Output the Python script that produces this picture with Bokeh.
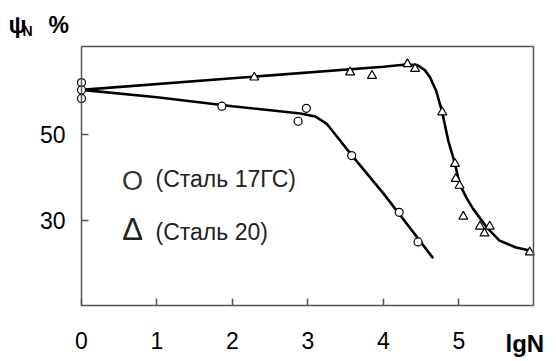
from bokeh.plotting import figure
from bokeh.models import Range1d, FixedTicker, Label, LinearAxis
from bokeh.embed import file_html
from bokeh.resources import INLINE

# Сталь 17ГС (circles)
c_x = [0.0, 0.0, 0.0, 1.86, 2.87, 2.98, 3.58, 4.21, 4.46]
c_y = [62.1, 60.4, 58.4, 56.6, 53.1, 56.1, 45.1, 31.9, 25.0]
c_curve_x = [0.0, 1.0, 2.0, 2.9, 3.1, 3.25, 3.4, 3.58, 4.0, 4.4, 4.66]
c_curve_y = [60.4, 58.7, 56.6, 54.9, 54.2, 52.5, 49.2, 45.2, 36.3, 27.2, 21.2]

# Сталь 20 (triangles)
t_x = [2.29, 3.56, 3.85, 4.32, 4.42, 4.78, 4.95, 4.96, 5.01, 5.06, 5.28, 5.34, 5.41, 5.94]
t_y = [63.3, 64.5, 63.7, 66.4, 65.3, 55.2, 43.2, 39.7, 38.1, 30.9, 28.6, 27.0, 28.6, 22.6]
t_curve_x = [0.0, 2.0, 4.0, 4.3, 4.45, 4.55, 4.62, 4.70, 4.78, 4.86, 4.95, 5.01, 5.10, 5.19, 5.37, 5.54, 5.76, 5.94]
t_curve_y = [60.4, 63.1, 65.8, 66.3, 66.2, 65.0, 63.3, 60.2, 55.2, 48.6, 43.2, 38.5, 35.3, 32.7, 28.4, 25.3, 23.7, 23.0]

x_ticks = [0, 1, 2, 3, 4, 5]
y_ticks = [30, 50]
x_lo, x_hi = 0.0, 5.99      # plot box, data units
y_lo, y_hi = 10.2, 70.5

W, H = 556, 361
# box placement on the canvas (pixels)
BOX_L, BOX_R, BOX_T, BOX_B = 81, 533, 46, 305
sx = (BOX_R - BOX_L) / (x_hi - x_lo)
sy = (BOX_B - BOX_T) / (y_hi - y_lo)
x_range = Range1d(x_lo - BOX_L / sx, x_hi + (W - BOX_R) / sx)
y_range = Range1d(y_lo - (H - BOX_B) / sy, y_hi + BOX_T / sy)

def px(x_px):
    return x_range.start + x_px / sx

def py(y_px):
    return y_range.end - y_px / sy

FONT = "Liberation Sans"
EDGE = "#555555"

p = figure(width=W, height=H, output_backend="svg", toolbar_location=None,
           x_range=x_range, y_range=y_range, min_border=0)
p.background_fill_color = "white"
p.border_fill_color = "white"
p.grid.visible = False
p.outline_line_color = None

def style_axis(ax):
    ax.axis_line_color = EDGE
    ax.axis_line_width = 1.5
    ax.major_tick_line_color = EDGE
    ax.major_tick_line_width = 1.5
    ax.major_tick_in = 7
    ax.major_tick_out = 0
    ax.minor_tick_line_color = None
    ax.major_label_text_font = FONT
    ax.major_label_text_font_size = "23px"
    ax.major_label_text_color = "black"

xa, ya = p.xaxis[0], p.yaxis[0]
style_axis(xa)
style_axis(ya)
xa.ticker = FixedTicker(ticks=x_ticks)
ya.ticker = FixedTicker(ticks=y_ticks)
xa.fixed_location = y_lo
ya.fixed_location = x_lo
xa.bounds = (x_lo, x_hi)
ya.bounds = (y_lo, y_hi)
xa.major_label_standoff = 26
ya.major_label_standoff = 16

top_ax = LinearAxis(ticker=FixedTicker(ticks=[]), fixed_location=y_hi, bounds=(x_lo, x_hi))
right_ax = LinearAxis(ticker=FixedTicker(ticks=[]), fixed_location=x_hi, bounds=(y_lo, y_hi))
for ax in (top_ax, right_ax):
    style_axis(ax)
p.add_layout(top_ax, "above")
p.add_layout(right_ax, "right")

p.line(c_curve_x, c_curve_y, line_color="black", line_width=2.6)
p.line(t_curve_x, t_curve_y, line_color="black", line_width=2.6)
p.scatter(c_x, c_y, marker="circle", size=8, fill_color="white", line_color="black", line_width=1.2)
p.scatter(t_x, t_y, marker="triangle", size=9, fill_color="white", line_color="black", line_width=1.2)

def lab(x_px, y_px, text, size, align="left", baseline="middle", bold=False, color="#222222"):
    p.add_layout(Label(x=px(x_px), y=py(y_px), text=text, text_font=FONT, text_font_size=size,
                       text_font_style="bold" if bold else "normal",
                       text_align=align, text_baseline=baseline, text_color=color))

# legend
lab(132, 180, "O", "27px", align="center", color="#333333")
lab(155, 178, "(Сталь 17ГС)", "23px")
lab(132, 229, "Δ", "31px", align="center")
lab(155, 231, "(Сталь 20)", "23px")

# axis titles
lab(8, 24, "ψ", "24px", baseline="alphabetic", bold=True, color="black")
lab(22, 30, "N", "14px", baseline="alphabetic", bold=True, color="black")
lab(48, 24, "%", "23px", baseline="alphabetic", bold=True, color="black")
lab(505, 343, "lgN", "24px", baseline="alphabetic", bold=True, color="black")

open("out.html", "w").write(file_html(p, INLINE))
